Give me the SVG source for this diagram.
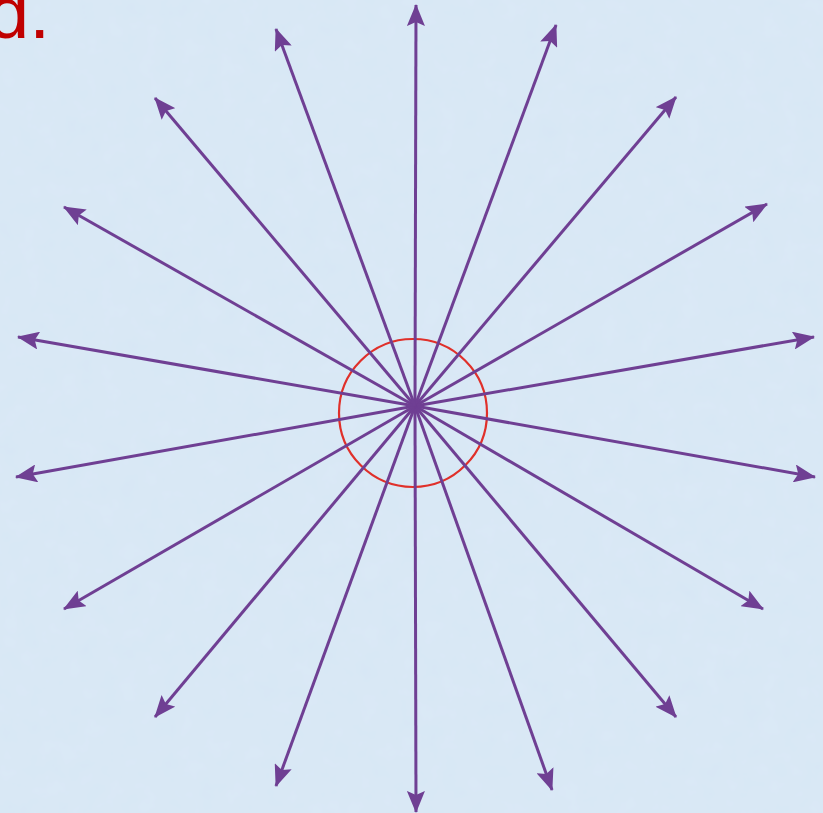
<svg xmlns="http://www.w3.org/2000/svg" width="823" height="813" viewBox="0 0 823 813">
<defs>
<marker id="ah" markerUnits="userSpaceOnUse" viewBox="0 0 22 18" markerWidth="22" markerHeight="18" refX="21" refY="9" orient="auto">
<path d="M0,0 L22,9 L0,18 L4,9 z" fill="#6f3f93"/>
</marker>
<filter id="tex" x="0" y="0" width="100%" height="100%">
<feTurbulence type="fractalNoise" baseFrequency="0.05" numOctaves="3" seed="4"/>
<feColorMatrix type="matrix" values="0 0 0 0 0.75  0 0 0 0 0.84  0 0 0 0 0.93  0 0 0 0.4 0"/>
</filter>
</defs>
<style>
.ray{stroke:#6f3f93;stroke-width:3;fill:none;marker-end:url(#ah)}
</style>
<rect width="823" height="813" fill="#d7e7f5"/>
<rect width="823" height="813" filter="url(#tex)"/>
<text x="50" y="38" font-family="Liberation Sans, Arial, sans-serif" font-size="75" fill="#c00000" text-anchor="end">d.</text>
<g id="circle">
<circle cx="413" cy="413" r="74" fill="none" stroke="#e0302a" stroke-width="2.2"/>
</g>
<g id="connectors">
<line class="ray" x1="415" y1="406" x2="416" y2="5"/>
<line class="ray" x1="415" y1="406" x2="556" y2="25"/>
<line class="ray" x1="415" y1="406" x2="676" y2="97"/>
<line class="ray" x1="415" y1="406" x2="767" y2="204"/>
<line class="ray" x1="415" y1="406" x2="814" y2="337"/>
<line class="ray" x1="415" y1="406" x2="815" y2="477"/>
<line class="ray" x1="415" y1="406" x2="763" y2="609"/>
<line class="ray" x1="415" y1="406" x2="676" y2="717"/>
<line class="ray" x1="415" y1="406" x2="552" y2="790"/>
<line class="ray" x1="415" y1="406" x2="416" y2="812"/>
<line class="ray" x1="415" y1="406" x2="276" y2="786"/>
<line class="ray" x1="415" y1="406" x2="155" y2="717"/>
<line class="ray" x1="415" y1="406" x2="64" y2="609"/>
<line class="ray" x1="415" y1="406" x2="16" y2="477"/>
<line class="ray" x1="415" y1="406" x2="18" y2="337"/>
<line class="ray" x1="415" y1="406" x2="64" y2="207"/>
<line class="ray" x1="415" y1="406" x2="155" y2="98"/>
<line class="ray" x1="415" y1="406" x2="276" y2="29"/>
</g>
</svg>
